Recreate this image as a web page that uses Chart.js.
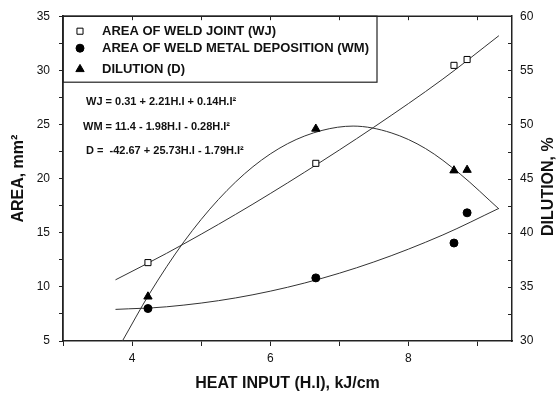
<!DOCTYPE html>
<html><head><meta charset="utf-8">
<script src="https://cdn.jsdelivr.net/npm/chart.js@4/dist/chart.umd.min.js"></script>
<style>html,body{margin:0;padding:0;background:#fff}#wrap{width:557px;height:397px;position:relative}</style>
</head><body><div id="wrap"><canvas id="c" width="557" height="397"></canvas></div>
<script>
// ---- data ----
const heatInput = [4.23, 6.66, 8.66, 8.85];
const weldJoint = [12.24, 21.41, 30.46, 31.0];
const weldMetal = [8.0, 10.83, 14.05, 16.84];
const dilution = [34.1, 49.6, 45.75, 45.8];

const fitX = [3.76, 4.5, 5.5, 6.5, 7.5, 8.5, 9.31];
const weldJointFit = [10.65, 13.1, 16.7, 20.6, 24.75, 29.2, 33.2];
const weldMetalFit = [7.92, 8.16, 8.98, 10.36, 12.3, 14.8, 17.25];
const dilutionFitX = [3.86, 4.25, 4.75, 5.25, 5.75, 6.25, 6.75, 7.2, 7.75, 8.25, 8.75, 9.31];
const dilutionFit = [30.0, 34.35, 39.16, 43.07, 46.1, 48.22, 49.45, 49.85, 49.23, 47.77, 45.42, 42.2];

const xLabelValues = [4, 6, 8];
const areaLabelValues = [5, 10, 15, 20, 25, 30, 35];
const dilutionLabelValues = [30, 35, 40, 45, 50, 55, 60];

const seriesNames = ['AREA OF WELD JOINT (WJ)', 'AREA OF WELD METAL DEPOSITION (WM)', 'DILUTION (D)'];
const equations = ['WJ = 0.31 + 2.21H.I + 0.14H.I\u00B2', 'WM = 11.4 - 1.98H.I - 0.28H.I\u00B2', 'D =  -42.67 + 25.73H.I - 1.79H.I\u00B2'];
const xTitle = 'HEAT INPUT (H.I), kJ/cm';
const yTitle = 'AREA, mm\u00B2';
const y1Title = 'DILUTION, %';

const FONT = '"Liberation Sans", Arial, Helvetica, sans-serif';
const INK = '#111';
const LINE = '#333';

const pts = (xs, ys) => xs.map((x, i) => ({x, y: ys[i]}));

const markerStyles = [
  {pointStyle: 'rect', radius: 4.3, fill: '#fff', borderWidth: 1},
  {pointStyle: 'circle', radius: 4, fill: '#000', borderWidth: 1},
  {pointStyle: 'triangle', radius: 4.8, fill: '#000', borderWidth: 1}
];

function markerDataset(label, data, m, axis) {
  return {
    label, data, yAxisID: axis, showLine: false,
    pointStyle: m.pointStyle, pointRadius: m.radius, pointHoverRadius: m.radius,
    backgroundColor: m.fill, borderColor: '#000', pointBorderWidth: m.borderWidth
  };
}
function fitDataset(label, data, axis) {
  return {
    label, data, yAxisID: axis, showLine: true, pointRadius: 0,
    borderColor: LINE, borderWidth: 1, fill: false, cubicInterpolationMode: 'monotone'
  };
}

const annotPlugin = {
  id: 'annot',
  afterDraw(chart) {
    const {ctx, chartArea: a, scales} = chart;
    ctx.save();
    ctx.strokeStyle = '#222';
    ctx.lineWidth = 1.5;
    ctx.beginPath(); ctx.moveTo(a.left, a.top); ctx.lineTo(a.right, a.top); ctx.stroke();
    ctx.lineWidth = 1;
    scales.x.ticks.forEach(t => {
      const px = Math.round(scales.x.getPixelForValue(t.value)) + 0.5;
      if (px <= a.left + 2 || px >= a.right - 2) return;
      ctx.beginPath(); ctx.moveTo(px, a.top); ctx.lineTo(px, a.top + 4); ctx.stroke();
    });
    scales.y1.ticks.forEach(t => {
      const py = Math.round(scales.y1.getPixelForValue(t.value)) + 0.5;
      if (py <= a.top + 2 || py >= a.bottom - 2) return;
      ctx.beginPath(); ctx.moveTo(a.right, py); ctx.lineTo(a.right - 4, py); ctx.stroke();
    });
    ctx.lineWidth = 1.2;
    ctx.strokeRect(a.left, a.top, 314, 66);
    const rows = [15, 32, 53];
    ctx.fillStyle = INK;
    ctx.textBaseline = 'middle';
    ctx.textAlign = 'left';
    seriesNames.forEach((name, i) => {
      const m = markerStyles[i];
      const y = a.top + rows[i];
      ctx.save();
      ctx.fillStyle = m.fill; ctx.strokeStyle = '#000'; ctx.lineWidth = m.borderWidth;
      Chart.helpers.drawPoint(ctx, {pointStyle: m.pointStyle, radius: m.radius, rotation: 0, borderWidth: m.borderWidth}, a.left + 17, y);
      ctx.restore();
      ctx.fillStyle = INK;
      ctx.font = 'bold 13px ' + FONT;
      ctx.fillText(name, a.left + 39, y + 0.5);
    });
    ctx.font = 'bold 11px ' + FONT;
    const eqX = [23, 20, 23];
    const eqY = [86, 111, 135];
    equations.forEach((eq, i) => ctx.fillText(eq, a.left + eqX[i], a.top + eqY[i]));
    ctx.save();
    ctx.font = 'bold 16px ' + FONT;
    ctx.textAlign = 'center';
    ctx.translate(549, (a.top + a.bottom) / 2 + 8);
    ctx.rotate(-Math.PI / 2);
    ctx.fillText(y1Title, 0, 0);
    ctx.restore();
    ctx.restore();
  }
};

new Chart(document.getElementById('c'), {
  type: 'line',
  data: {
    datasets: [
      markerDataset(seriesNames[0], pts(heatInput, weldJoint), markerStyles[0], 'y'),
      markerDataset(seriesNames[1], pts(heatInput, weldMetal), markerStyles[1], 'y'),
      markerDataset(seriesNames[2], pts(heatInput, dilution), markerStyles[2], 'y1'),
      fitDataset('WJ fit', pts(fitX, weldJointFit), 'y'),
      fitDataset('WM fit', pts(fitX, weldMetalFit), 'y'),
      fitDataset('D fit', pts(dilutionFitX, dilutionFit), 'y1')
    ]
  },
  options: {
    responsive: false, animation: false, devicePixelRatio: 1,
    layout: {padding: {top: 15, left: 0, right: 0, bottom: 0}},
    plugins: {legend: {display: false}, tooltip: {enabled: false}},
    scales: {
      x: {
        type: 'linear', position: 'bottom', min: 3, max: 9.5,
        afterFit: s => { s.height = 56; },
        ticks: {stepSize: 1, includeBounds: false, autoSkip: false, maxRotation: 0,
          color: INK, font: {family: FONT, size: 12}, padding: 5,
          callback: v => xLabelValues.includes(v) ? String(v) : ''},
        grid: {drawOnChartArea: false, drawTicks: true, tickLength: 5, color: '#222', tickColor: '#222'},
        border: {display: true, color: '#222', width: 1.5},
        title: {display: true, text: xTitle, color: INK, font: {family: FONT, size: 16, weight: 'bold'}, padding: {top: 0, bottom: 4}}
      },
      y: {
        type: 'linear', position: 'left', min: 5, max: 35,
        afterFit: s => { s.width = 63; },
        ticks: {stepSize: 2.5, autoSkip: false, color: INK, font: {family: FONT, size: 12}, padding: 9,
          callback: v => areaLabelValues.includes(v) ? String(v) : ''},
        grid: {drawOnChartArea: false, drawTicks: true, tickLength: 4, color: '#222', tickColor: '#222'},
        border: {display: true, color: '#222', width: 1.8},
        title: {display: true, text: yTitle, color: INK, font: {family: FONT, size: 16, weight: 'bold'}, padding: {top: 9, bottom: 0}}
      },
      y1: {
        type: 'linear', position: 'right', min: 30, max: 60,
        afterFit: s => { s.width = 45; },
        ticks: {stepSize: 2.5, autoSkip: false, color: INK, font: {family: FONT, size: 12}, padding: 8,
          callback: v => dilutionLabelValues.includes(v) ? String(v) : ''},
        grid: {drawOnChartArea: false, drawTicks: false, color: '#222'},
        border: {display: true, color: '#222', width: 1.5},
        title: {display: false}
      }
    }
  },
  plugins: [annotPlugin]
});
</script>
</body></html>
